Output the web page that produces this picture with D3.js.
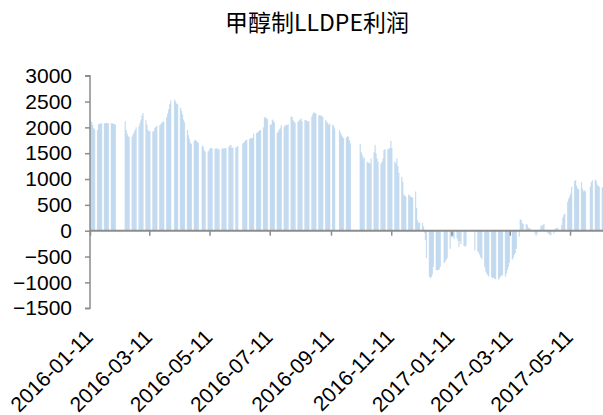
<!DOCTYPE html>
<html>
<head>
<meta charset="utf-8">
<script src="https://cdn.jsdelivr.net/npm/d3@7"></script>
<style>
  body { margin: 0; background: #fff; }
  text { font-family: "Liberation Sans", Arial, sans-serif; fill: #000; }
</style>
</head>
<body>
<div id="chart"></div>
<script>
const svgWidth = 603;
const svgHeight = 415;

const title = '甲醇制LLDPE利润';

// weeks start on this Monday, each row is Mon..Fri, null = no trading
const firstMonday = '2016-01-11';
const weeklyProfit = [
  [2130, 2100, 2050, 1990, 1960],
  [1950, 2060, 2070, 2070, 2080],
  [2080, 2080, 2090, 2080, 2080],
  [2080, 2080, 2070, 2060, 2060],
  [null, null, null, null, null],
  [2120, 1950, 1880, 1830, 1810],
  [1820, 1860, 1900, 1950, 2000],
  [2020, 2080, 2150, 2230, 2280],
  [2140, 2050, 1950, 1920, 1930],
  [1920, 1930, 1990, 2010, 2030],
  [2040, 2060, 2090, 2110, 2110],
  [2200, 2270, 2350, 2450, 2520],
  [null, 2540, 2500, 2460, 2450],
  [2380, 2320, 2250, 2150, 2100],
  [1950, 1850, 1780, 1700, 1680],
  [1740, 1760, 1740, 1720, 1700],
  [null, 1650, 1620, 1560, 1530],
  [1530, 1560, 1600, 1600, 1590],
  [1590, 1580, 1600, 1570, 1580],
  [1590, 1580, 1600, 1590, 1600],
  [1620, 1650, 1660, 1600, 1610],
  [1610, 1620, 1640, null, null],
  [1690, 1700, 1730, 1750, 1760],
  [1780, 1790, 1790, 1800, 1880],
  [1890, 1900, 1920, 1940, 1950],
  [2000, 2190, 2200, 2170, 2160],
  [2050, 2060, 2150, 2130, 2100],
  [1890, 1920, 1960, 1980, 2040],
  [2010, 2040, 2050, 2040, 2060],
  [2210, 2200, 2140, 2110, 2090],
  [2110, 2130, 2150, 2170, 2120],
  [2140, 2140, 2130, 2110, 2120],
  [2210, 2260, 2290, 2280, 2270],
  [2230, 2240, 2220, 2230, 2200],
  [2140, 2110, 2080, 2050, 2070],
  [2050, 2030, 1980, null, null],
  [1950, 1900, 1850, 1820, 1790],
  [1800, 1830, 1820, 1750, 1690],
  [null, null, null, null, null],
  [1680, 1520, 1470, 1400, 1420],
  [1330, 1320, 1310, 1300, 1400],
  [1520, 1660, 1500, 1400, 1340],
  [1300, 1330, 1400, 1560, 1580],
  [1580, 1590, 1600, 1740, 1600],
  [1340, 1300, 1400, 1250, 1120],
  [1040, 950, 700, 680, 660],
  [700, 680, 660, 650, 640],
  [760, 440, 200, 150, 160],
  [155, 80, -40, -180, -530],
  [-890, -920, -900, -850, -700],
  [-760, -770, -760, -750, -700],
  [null, -630, -600, -567, -530],
  [-350, -130, -116, -120, -160],
  [-150, -200, -310, -200, -260],
  [-300, -310, -290, null, null],
  [null, null, null, null, -380],
  [-400, -430, -470, -520, -550],
  [-700, -790, -830, -860, -890],
  [-900, -920, -910, -930, -940],
  [-950, -920, -890, -870, -860],
  [-890, -830, -760, -700, -620],
  [-560, -530, -470, -430, -350],
  [-116, 220, 210, 150, 130],
  [124, 120, 60, 50, 40],
  [null, null, -50, -100, -60],
  [20, 90, 100, 110, 130],
  [20, -50, -60, -80, -90],
  [-60, 30, 50, 40, 60],
  [null, 110, 250, 304, 330],
  [560, 620, 660, 720, 850],
  [960, 980, 870, 820, 800],
  [940, 820, 760, 780, 760],
  [null, null, 850, 940, 980],
  [990, 960, 890, 870, 850],
  [840, 820, null, null, null]
];

const xTickLabels = ['2016-01-11', '2016-03-11', '2016-05-11', '2016-07-11',
  '2016-09-11', '2016-11-11', '2017-01-11', '2017-03-11', '2017-05-11'];
const yTicks = [-1500, -1000, -500, 0, 500, 1000, 1500, 2000, 2500, 3000];
const xEnd = '2017-06-13';

const parse = d3.utcParse('%Y-%m-%d');
const start = parse(firstMonday);

const data = [];
weeklyProfit.forEach((week, i) => {
  week.forEach((v, j) => {
    if (v !== null) data.push({ date: d3.utcDay.offset(start, i * 7 + j), value: v });
  });
});

const plotLeft = 90;
const plotRight = 602.6;
const plotTop = 75.7;
const plotBottom = 308.2;

const x = d3.scaleUtc()
  .domain([parse(xTickLabels[0]), parse(xEnd)])
  .range([plotLeft, plotRight]);

const y = d3.scaleLinear()
  .domain([-1500, 3000])
  .range([plotBottom, plotTop]);

const svg = d3.select('#chart').append('svg')
  .attr('width', svgWidth)
  .attr('height', svgHeight);

svg.append('text')
  .attr('x', 317)
  .attr('y', 31)
  .attr('text-anchor', 'middle')
  .style('font-family', '"Noto Sans CJK SC", "Noto Sans", sans-serif')
  .style('font-size', '23px')
  .text(title);

// bars, one per trading day
const dayW = x(d3.utcDay.offset(start, 1)) - x(start);
svg.append('g')
  .selectAll('rect')
  .data(data)
  .enter()
  .append('rect')
  .attr('x', d => x(d.date))
  .attr('width', dayW * 1.3)
  .attr('y', d => y(Math.max(0, d.value)))
  .attr('height', d => Math.abs(y(d.value) - y(0)))
  .attr('fill', '#9dc3e6')
  .attr('fill-opacity', 0.55);

// y axis
const yAxis = svg.append('g')
  .attr('transform', `translate(${plotLeft},0)`)
  .call(d3.axisLeft(y).tickValues(yTicks).tickSize(5).tickPadding(13).tickFormat(d3.format('d')));
yAxis.select('.domain').attr('stroke', '#8c8c8c').attr('stroke-width', 1.5)
  .attr('d', `M-5,${plotTop}H0V${plotBottom}H-5`);
yAxis.selectAll('.tick line').attr('stroke', '#8c8c8c').attr('stroke-width', 1.5);
yAxis.selectAll('.tick text')
  .style('font-size', '21px')
  .attr('fill', '#000');

// x axis sits on zero, labels hang below the plot
const xDates = xTickLabels.map(parse);
const xAxis = svg.append('g')
  .attr('transform', `translate(0,${y(0)})`)
  .call(d3.axisBottom(x).tickValues(xDates).tickSize(5).tickFormat(''));
xAxis.select('.domain').attr('stroke', '#8c8c8c').attr('stroke-width', 2)
  .attr('d', `M${plotLeft},0H${svgWidth}`);
xAxis.selectAll('.tick line').attr('stroke', '#8c8c8c').attr('stroke-width', 1.5);

svg.append('g')
  .selectAll('text')
  .data(xDates)
  .enter()
  .append('text')
  .attr('transform', d => `translate(${x(d) - 1},${plotBottom + 25}) rotate(-45)`)
  .attr('text-anchor', 'end')
  .attr('dy', '0.35em')
  .style('font-size', '21px')
  .text(d3.utcFormat('%Y-%m-%d'));
</script>
</body>
</html>
